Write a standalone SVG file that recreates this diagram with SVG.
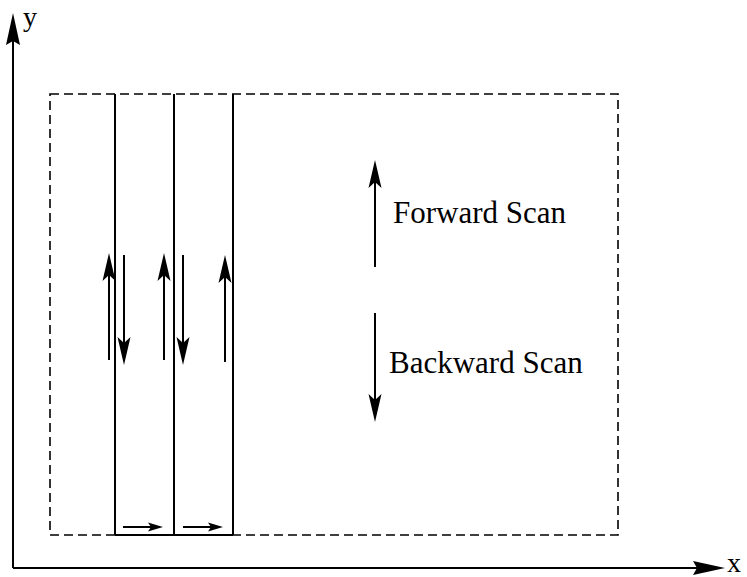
<svg xmlns="http://www.w3.org/2000/svg" width="747" height="577" viewBox="0 0 747 577">
<style>
.ln{stroke:#000;stroke-width:2;fill:none}
.dash{stroke:#000;stroke-width:1.6;fill:none;stroke-dasharray:9 5}
.arr{stroke:#000;stroke-width:2;fill:none;marker-end:url(#head)}
.sarr{stroke:#000;stroke-width:2;fill:none;marker-end:url(#shead)}
.ax{stroke:#000;stroke-width:2;fill:none;marker-end:url(#axhead)}
.lbl{font-family:"Liberation Serif",serif;fill:#000}
</style>
<defs>
<marker id="head" markerUnits="userSpaceOnUse" viewBox="-24 -8 34 16" refX="0" refY="0" markerWidth="34" markerHeight="16" orient="auto">
<path d="M8,0 L-20,-6.5 L-14,0 L-20,6.5 Z" fill="#000"/>
</marker>
<marker id="shead" markerUnits="userSpaceOnUse" viewBox="-12 -6 20 12" refX="0" refY="0" markerWidth="20" markerHeight="12" orient="auto">
<path d="M6,0 L-9,-4.5 L-6,0 L-9,4.5 Z" fill="#000"/>
</marker>
<marker id="axhead" markerUnits="userSpaceOnUse" viewBox="-30 -8 40 16" refX="0" refY="0" markerWidth="40" markerHeight="16" orient="auto">
<path d="M8,0 L-24,-7 L-20,0 L-24,7 Z" fill="#000"/>
</marker>
</defs>
<g id="axes">
<line class="ax" x1="13" y1="568" x2="13" y2="21"/>
<line class="ax" x1="13" y1="568" x2="717" y2="568"/>
<text class="lbl" x="23" y="26" font-size="28">y</text>
<text class="lbl" x="727" y="572" font-size="28">x</text>
</g>
<g id="region">
<rect class="dash" x="50" y="94" width="568" height="441"/>
</g>
<g id="scanlines">
<line class="ln" x1="115" y1="94" x2="115" y2="535"/>
<line class="ln" x1="174" y1="94" x2="174" y2="535"/>
<line class="ln" x1="233" y1="94" x2="233" y2="535"/>
<line class="ln" x1="115" y1="535" x2="233" y2="535"/>
</g>
<g id="connectors">
<line class="arr" x1="109" y1="360" x2="109" y2="261"/>
<line class="arr" x1="124" y1="255" x2="124" y2="357"/>
<line class="arr" x1="164" y1="360" x2="164" y2="261"/>
<line class="arr" x1="183" y1="255" x2="183" y2="357"/>
<line class="arr" x1="225" y1="362" x2="225" y2="263"/>
<line class="sarr" x1="123" y1="527" x2="157" y2="527"/>
<line class="sarr" x1="183" y1="527" x2="217" y2="527"/>
</g>
<g id="legend-forward">
<line class="arr" x1="375" y1="267" x2="375" y2="168"/>
<text class="lbl" x="393" y="223" font-size="31">Forward Scan</text>
</g>
<g id="legend-backward">
<line class="arr" x1="375" y1="313" x2="375" y2="414"/>
<text class="lbl" x="389" y="373" font-size="31">Backward Scan</text>
</g>
</svg>
